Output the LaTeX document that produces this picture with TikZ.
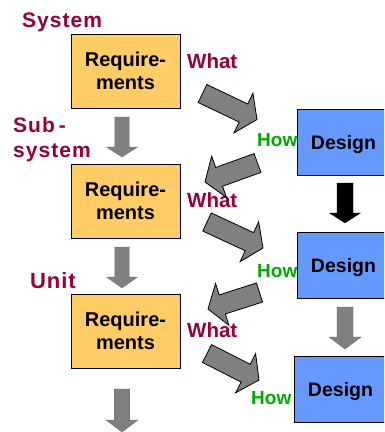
\documentclass[tikz,border=0pt]{standalone}
\usepackage{fontspec}
\setmainfont{Liberation Sans}
\usetikzlibrary{calc}

\definecolor{reqfill}{RGB}{255,204,102}
\definecolor{desfill}{RGB}{102,153,255}
\definecolor{tierred}{RGB}{153,0,51}
\definecolor{howgreen}{RGB}{0,170,0}
\definecolor{flowgray}{RGB}{128,128,128}

\tikzset{
  % block arrow drawn from a tail centre to a tip:
  % #1 half shaft width, #2 half head width, #3 head length
  blockarrow/.style n args={3}{to path={
    ($(\tikztostart)!#1!90:(\tikztotarget)$)
    -- ($(\tikztotarget)!#3!(\tikztostart)!#1!-90:(\tikztostart)$)
    -- ($(\tikztotarget)!#3!(\tikztostart)!#2!-90:(\tikztostart)$)
    -- (\tikztotarget)
    -- ($(\tikztotarget)!#3!(\tikztostart)!#2!90:(\tikztostart)$)
    -- ($(\tikztotarget)!#3!(\tikztostart)!#1!90:(\tikztostart)$)
    -- ($(\tikztostart)!#1!-90:(\tikztotarget)$)
    -- cycle}},
  reqbox/.style={draw=black, line width=0.9pt, fill=reqfill,
    minimum width=109pt, minimum height=74pt, inner sep=0pt, align=center,
    execute at begin node={\rule{0pt}{17.5pt}},
    font=\fontsize{20}{23}\selectfont\bfseries},
  desbox/.style={draw=black, line width=0.9pt, fill=desfill,
    minimum width=93pt, minimum height=66pt, inner sep=0pt, text depth=0pt,
    font=\fontsize{19.5}{22}\selectfont\bfseries},
  tierlabel/.style={text=tierred, inner sep=0pt, anchor=base west,
    font=\fontsize{21}{24}\selectfont\bfseries\addfontfeature{LetterSpace=5}},
  whatlbl/.style={text=tierred, inner sep=0pt, anchor=base west,
    font=\fontsize{20.5}{24}\selectfont\bfseries},
  howlbl/.style={text=howgreen, inner sep=0pt, anchor=base west,
    font=\fontsize{19}{22}\selectfont\bfseries},
  flowdown/.style={fill=flowgray, draw=flowgray!80!black, line width=0.3pt},
  blackdown/.style={fill=black, draw=black, line width=0.3pt},
  crossarrow/.style={fill=flowgray, draw=black, line width=0.8pt, line join=miter},
}

\begin{document}
\begin{tikzpicture}[x=1pt, y=-1pt]
  \useasboundingbox (0,0) rectangle (384,432);
  \clip (0,0) rectangle (384,432);
  \fill[white] (0,0) rectangle (384,432);

  % requirement boxes
  \node[reqbox] (r1) at (125.5,71)  {Require-\\ments};
  \node[reqbox] (r2) at (125.5,201) {Require-\\ments};
  \node[reqbox] (r3) at (125.5,331) {Require-\\ments};

  % design boxes (run off the right edge)
  \node[desbox] (d1) at (343.5,142)   {Design};
  \node[desbox] (d2) at (343.5,265.5) {Design};
  \node[desbox] (d3) at (340.5,389.5) {Design};

  % level labels
  \node[tierlabel] (lsys)  at (22,27)  {System};
  \node[tierlabel] (lsub)  at (13,132) {Sub\kern4pt-};
  \node[tierlabel] (lsub2) at (13,157) {system};
  \node[tierlabel, font=\fontsize{22}{24}\selectfont\bfseries\addfontfeature{LetterSpace=4}] (lunit) at (30,288) {Unit};

  % what / how labels
  \node[whatlbl] (w1) at (187,68)  {What};
  \node[whatlbl] (w2) at (187,207) {What};
  \node[whatlbl] (w3) at (187,337) {What};
  \node[howlbl] (h1) at (257,146) {How};
  \node[howlbl] (h2) at (257,277) {How};
  \node[howlbl] (h3) at (251,404) {How};

  % end points of the block arrows
  \coordinate (ra1) at (122,117);  \coordinate (rb1) at (122,157);
  \coordinate (ra2) at (122,247);  \coordinate (rb2) at (122,288);
  \coordinate (ra3) at (122,389);  \coordinate (rb3) at (122,432);
  \coordinate (da1) at (345,183);  \coordinate (db1) at (345,223);
  \coordinate (da2) at (345,307);  \coordinate (db2) at (345,349);

  \coordinate (x1s) at (202.5,93.5); \coordinate (x1e) at (257,119.5);
  \coordinate (x2s) at (257.5,163);  \coordinate (x2e) at (205,182);
  \coordinate (x3s) at (207,222);    \coordinate (x3e) at (263,248);
  \coordinate (x4s) at (259.5,292.5);\coordinate (x4e) at (208,309);
  \coordinate (x5s) at (207,353.5);  \coordinate (x5e) at (259,380);

  % refinement down the requirement column
  \draw[flowdown] (ra1) to[blockarrow={7.2pt}{15.5pt}{10pt}] (rb1);
  \draw[flowdown] (ra2) to[blockarrow={7.2pt}{15.5pt}{11pt}] (rb2);
  \draw[flowdown] (ra3) to[blockarrow={7.8pt}{16pt}{12pt}] (rb3);

  % design column
  \draw[blackdown] (da1) to[blockarrow={8pt}{15.5pt}{10pt}] (db1);
  \draw[flowdown]  (da2) to[blockarrow={8pt}{16pt}{12pt}] (db2);

  % what -> how and back
  \draw[crossarrow] (x1s) to[blockarrow={10pt}{22pt}{15pt}] (x1e);
  \draw[crossarrow] (x2s) to[blockarrow={10pt}{22pt}{15pt}] (x2e);
  \draw[crossarrow] (x3s) to[blockarrow={10pt}{22pt}{15pt}] (x3e);
  \draw[crossarrow] (x4s) to[blockarrow={10pt}{22pt}{15pt}] (x4e);
  \draw[crossarrow] (x5s) to[blockarrow={10pt}{22pt}{15pt}] (x5e);
\end{tikzpicture}
\end{document}
